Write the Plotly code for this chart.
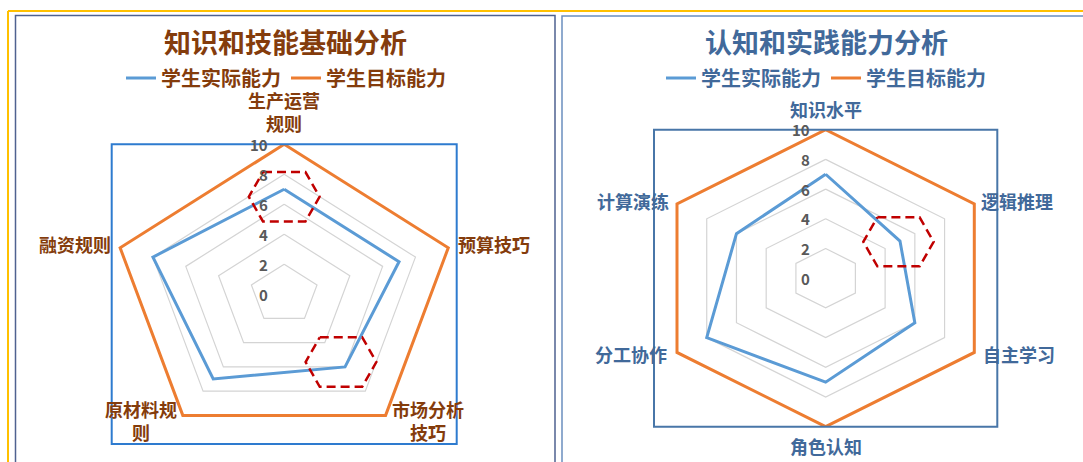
import numpy as np
import plotly.graph_objects as go

# Daten
left_categories = ["生产运营<br>规则", "预算技巧", "市场分析<br>技巧", "原材料规<br>则", "融资规则"]
left_actual = [7, 7, 6, 7, 8]
left_target = [10, 10, 10, 10, 10]

right_categories = ["知识水平", "逻辑推理", "自主学习", "角色认知", "分工协作", "计算演练"]
right_actual = [7, 5, 6, 7, 8, 6]
right_target = [10, 10, 10, 10, 10, 10]

radial_ticks = [0, 2, 4, 6, 8, 10]
series_names = ["学生实际能力", "学生目标能力"]

# markierte Stellen: (Kategorie-Index, Radius)
left_marks = [(0, 6.5), (2, 5.6)]
right_marks = [(1, 4.9)]

W, H = 1083, 462
FONT = "Noto Sans CJK SC, Microsoft YaHei, sans-serif"
BLUE, ORANGE, GRID, RED = "#5B9BD5", "#ED7D31", "#D4D4D4", "#C00000"
BROWN, STEEL = "#843C0C", "#41699A"


def px(x):
    return x / W


def py(y):
    return 1 - y / H


def to_xy(values, close=True):
    n = len(values)
    ang = 2 * np.pi * np.arange(n) / n
    v = np.asarray(values, dtype=float)
    x, y = v * np.sin(ang), v * np.cos(ang)
    if close:
        x, y = np.append(x, x[0]), np.append(y, y[0])
    return x, y


def hexagon(n, idx, r, hw=2.05, hh=1.65):
    a = 2 * np.pi * idx / n
    cx, cy = r * np.sin(a), r * np.cos(a)
    e = 0.6 * hw
    xs = [cx - e, cx + e, cx + hw, cx + e, cx - e, cx - hw, cx - e]
    ys = [cy + hh, cy + hh, cy, cy - hh, cy - hh, cy, cy + hh]
    return xs, ys


fig = go.Figure()
annotations = []

panels = [
    dict(cats=left_categories, actual=left_actual, target=left_target, marks=left_marks,
         xa="x", ya="y", legend="legend", color=BROWN,
         shifts=[(0, 6), (8, 4), (4, -5), (-4, -5), (-7, 4)]),
    dict(cats=right_categories, actual=right_actual, target=right_target, marks=right_marks,
         xa="x2", ya="y2", legend="legend2", color=STEEL,
         shifts=[(0, 6), (5, 3), (7, -2), (0, -4), (-8, -2), (-6, 3)]),
]

for p in panels:
    n = len(p["cats"])
    # Gitternetz
    for t in radial_ticks[1:]:
        gx, gy = to_xy([t] * n)
        fig.add_trace(go.Scatter(x=gx, y=gy, mode="lines", line=dict(color=GRID, width=1.2),
                                 xaxis=p["xa"], yaxis=p["ya"], showlegend=False, hoverinfo="skip"))
    ax, ay = to_xy(p["actual"])
    fig.add_trace(go.Scatter(x=ax, y=ay, mode="lines", name=f"<b>{series_names[0]}</b>",
                             line=dict(color=BLUE, width=3), xaxis=p["xa"], yaxis=p["ya"],
                             legend=p["legend"]))
    tx, ty = to_xy(p["target"])
    fig.add_trace(go.Scatter(x=tx, y=ty, mode="lines", name=f"<b>{series_names[1]}</b>",
                             line=dict(color=ORANGE, width=3), xaxis=p["xa"], yaxis=p["ya"],
                             legend=p["legend"]))
    for idx, r in p["marks"]:
        hx, hy = hexagon(n, idx, r)
        fig.add_trace(go.Scatter(x=hx, y=hy, mode="lines",
                                 line=dict(color=RED, width=2.5, dash="9px,5px"),
                                 xaxis=p["xa"], yaxis=p["ya"], showlegend=False, hoverinfo="skip"))
    # Achsenbeschriftung
    for t in radial_ticks:
        annotations.append(dict(x=0, y=t, xref=p["xa"], yref=p["ya"], text=f"<b>{t}</b>",
                                showarrow=False, xanchor="right", yanchor="middle", xshift=-14,
                                font=dict(size=15, color="#595959", family=FONT)))
    # Kategorien
    vx, vy = to_xy([10] * n, close=False)
    for i, cat in enumerate(p["cats"]):
        s, c = vx[i] / 10, vy[i] / 10
        xanchor = "left" if s > 0.1 else ("right" if s < -0.1 else "center")
        yanchor = "bottom" if c > 0.9 else ("top" if c < -0.9 else "middle")
        dx, dy = p["shifts"][i]
        annotations.append(dict(x=vx[i], y=vy[i], xref=p["xa"], yref=p["ya"], text=f"<b>{cat}</b>",
                                showarrow=False, xanchor=xanchor, yanchor=yanchor,
                                xshift=dx, yshift=dy,
                                font=dict(size=18, color=p["color"], family=FONT)))

# Titel
annotations.append(dict(x=px(285), y=py(41), xref="paper", yref="paper", text="<b>知识和技能基础分析</b>",
                        showarrow=False, xanchor="center", yanchor="middle",
                        font=dict(size=27, color=BROWN, family=FONT)))
annotations.append(dict(x=px(826), y=py(41), xref="paper", yref="paper", text="<b>认知和实践能力分析</b>",
                        showarrow=False, xanchor="center", yanchor="middle",
                        font=dict(size=27, color=STEEL, family=FONT)))

shapes = [
    # Rahmen
    dict(type="line", xref="paper", yref="paper", x0=px(8), x1=1, y0=py(11), y1=py(11),
         line=dict(color="#FFC000", width=2)),
    dict(type="line", xref="paper", yref="paper", x0=px(8), x1=px(8), y0=py(11), y1=0,
         line=dict(color="#FFC000", width=2)),
    dict(type="rect", xref="paper", yref="paper", x0=px(15.5), x1=px(555), y0=py(15.5), y1=-0.05,
         line=dict(color="#4F6290", width=1.5)),
    dict(type="rect", xref="paper", yref="paper", x0=px(562), x1=1.05, y0=py(16), y1=-0.05,
         line=dict(color="#6B8FBE", width=1.5)),
    # Zeichenflächen
    dict(type="rect", xref="x domain", yref="y domain", x0=0, x1=1, y0=0, y1=1,
         line=dict(color="#2E7BCF", width=2)),
    dict(type="rect", xref="x2 domain", yref="y2 domain", x0=0, x1=1, y0=0, y1=1,
         line=dict(color="#4876A8", width=2)),
]

hidden = dict(visible=False, range=[-10, 10], showgrid=False, zeroline=False, fixedrange=True)
legend_base = dict(orientation="h", xanchor="center", yanchor="middle", bgcolor="rgba(0,0,0,0)",
                   itemclick=False, itemdoubleclick=False)

fig.update_layout(
    width=W, height=H,
    margin=dict(l=0, r=0, t=0, b=0),
    paper_bgcolor="white", plot_bgcolor="white",
    xaxis=dict(domain=[px(111.7), px(456.7)], **hidden),
    yaxis=dict(domain=[py(444), py(144.3)], **hidden),
    xaxis2=dict(domain=[px(654), px(997.3)], anchor="y2", **hidden),
    yaxis2=dict(domain=[py(426.7), py(129.7)], anchor="x2", **hidden),
    legend=dict(x=px(286), y=py(78), font=dict(size=20, color=BROWN, family=FONT), **legend_base),
    legend2=dict(x=px(826), y=py(78), font=dict(size=20, color=STEEL, family=FONT), **legend_base),
    annotations=annotations,
    shapes=shapes,
    showlegend=True,
)

# Seitenrand entfernen, damit die Grafik bei (0, 0) beginnt
fig.write_html("out.html", config={"displayModeBar": False},
               post_script="document.body.style.margin='0';")
